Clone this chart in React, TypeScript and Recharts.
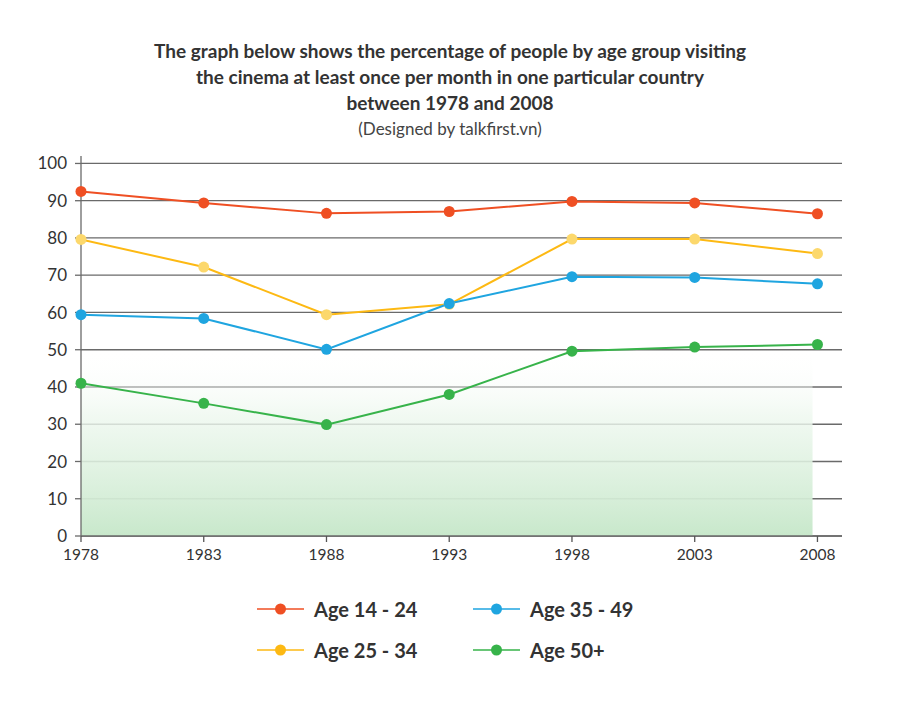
import React from 'react';
import { LineChart, Line, XAxis, YAxis, CartesianGrid, Legend, ReferenceArea } from 'recharts';

const years = [1978, 1983, 1988, 1993, 1998, 2003, 2008];
const age1424 = [92.5, 89.4, 86.6, 87.1, 89.8, 89.4, 86.5];
const age2534 = [79.6, 72.2, 59.4, 62.2, 79.7, 79.7, 75.8];
const age3549 = [59.4, 58.4, 50.1, 62.4, 69.6, 69.4, 67.7];
const age50 = [41.0, 35.6, 29.9, 38.0, 49.6, 50.7, 51.4];
const yTicks = [0, 10, 20, 30, 40, 50, 60, 70, 80, 90, 100];
const titleLines = [
  'The graph below shows the percentage of people by age group visiting',
  'the cinema at least once per month in one particular country',
  'between 1978 and 2008',
];
const subtitle = '(Designed by talkfirst.vn)';

const data = years.map((y, i) => ({
  year: y,
  a: age1424[i],
  b: age2534[i],
  c: age3549[i],
  d: age50[i],
}));

const series = [
  { key: 'a', name: 'Age 14 - 24', color: '#ef4f23', dot: '#ef4f23' },
  { key: 'b', name: 'Age 25 - 34', color: '#fdb913', dot: '#fcd86c' },
  { key: 'c', name: 'Age 35 - 49', color: '#1fa5e0', dot: '#1fa5e0' },
  { key: 'd', name: 'Age 50+', color: '#37b34a', dot: '#37b34a' },
];

const legendPos: Record<string, { x: number; y: number }> = {
  'Age 14 - 24': { x: 257, y: 609 },
  'Age 25 - 34': { x: 257, y: 650 },
  'Age 35 - 49': { x: 473, y: 609 },
  'Age 50+': { x: 473, y: 650 },
};

const FONT = 'Lato, "Open Sans", sans-serif';

const LegendContent = () => (
  <div style={{ position: 'relative', width: 900, height: 100 }}>
    {series.map((s) => {
      const p = legendPos[s.name];
      return (
        <div
          key={s.key}
          style={{
            position: 'absolute',
            left: p.x,
            top: p.y - 585 - 12,
            height: 24,
            display: 'flex',
            alignItems: 'center',
            whiteSpace: 'nowrap',
          }}
        >
          <svg width={47} height={24}>
            <line x1={0} y1={12} x2={47} y2={12} stroke={s.color} strokeWidth={1.5} />
            <circle cx={23.5} cy={12} r={5.5} fill={s.color} />
          </svg>
          <span
            style={{
              marginLeft: 10,
              fontFamily: FONT,
              fontWeight: 700,
              fontSize: 20,
              color: '#333',
            }}
          >
            {s.name}
          </span>
        </div>
      );
    })}
  </div>
);

export default function App() {
  return (
    <div style={{ position: 'absolute', left: 0, top: 0, width: 900, height: 704, background: '#fff' }}>
      <div
        style={{
          position: 'absolute',
          left: 0,
          top: 38,
          width: 900,
          textAlign: 'center',
          fontFamily: FONT,
          fontWeight: 700,
          fontSize: 19,
          lineHeight: '26px',
          color: '#333',
        }}
      >
        {titleLines.map((t) => (
          <div key={t}>{t}</div>
        ))}
        <div style={{ fontWeight: 400, fontSize: 17, color: '#444', lineHeight: '26px' }}>{subtitle}</div>
      </div>
      <LineChart
        width={900}
        height={704}
        data={data}
        margin={{ top: 156, right: 58, bottom: 138, left: 41 }}
        style={{ position: 'absolute', left: 0, top: 0 }}
      >
        <defs>
          <linearGradient id="greenFill" x1="0" y1="0" x2="0" y2="1">
            <stop offset="0%" stopColor="#ffffff" stopOpacity={0} />
            <stop offset="35%" stopColor="#eef8ef" stopOpacity={0.8} />
            <stop offset="100%" stopColor="#c8e8cb" stopOpacity={1} />
          </linearGradient>
        </defs>
        <ReferenceArea
          x1={1978}
          x2={2007.8}
          y1={0}
          y2={50}
          fill="url(#greenFill)"
          fillOpacity={1}
          stroke="none"
          ifOverflow="visible"
        />
        <CartesianGrid vertical={false} stroke="#6a6a6a" strokeWidth={1.3} horizontalValues={yTicks} />
        <XAxis
          dataKey="year"
          type="number"
          domain={[1978, 2009]}
          ticks={years}
          allowDataOverflow
          height={30}
          axisLine={{ stroke: '#6a6a6a', strokeWidth: 1.3 }}
          tickLine={{ stroke: '#555', strokeWidth: 1.3 }}
          tickSize={6}
          tickMargin={7}
          tick={{ fill: '#333', fontSize: 15.5, fontFamily: FONT }}
        />
        <YAxis
          type="number"
          domain={[0, 102]}
          ticks={yTicks}
          allowDataOverflow
          width={40}
          axisLine={{ stroke: '#6a6a6a', strokeWidth: 1.3 }}
          tickLine={{ stroke: '#6a6a6a', strokeWidth: 1.3 }}
          tickSize={6}
          tickMargin={8}
          tick={{ fill: '#333', fontSize: 17, fontFamily: FONT }}
        />
        {series.map((s) => (
          <Line
            key={s.key}
            dataKey={s.key}
            name={s.name}
            type="linear"
            stroke={s.color}
            strokeWidth={2}
            dot={{ r: 5.5, fill: s.dot, stroke: 'none', clipDot: false }}
            activeDot={false}
            isAnimationActive={false}
          />
        ))}
        <Legend
          layout="horizontal"
          verticalAlign="middle"
          align="center"
          content={LegendContent}
          wrapperStyle={{ left: 0, top: 585, width: 900, height: 100 }}
        />
      </LineChart>
    </div>
  );
}
